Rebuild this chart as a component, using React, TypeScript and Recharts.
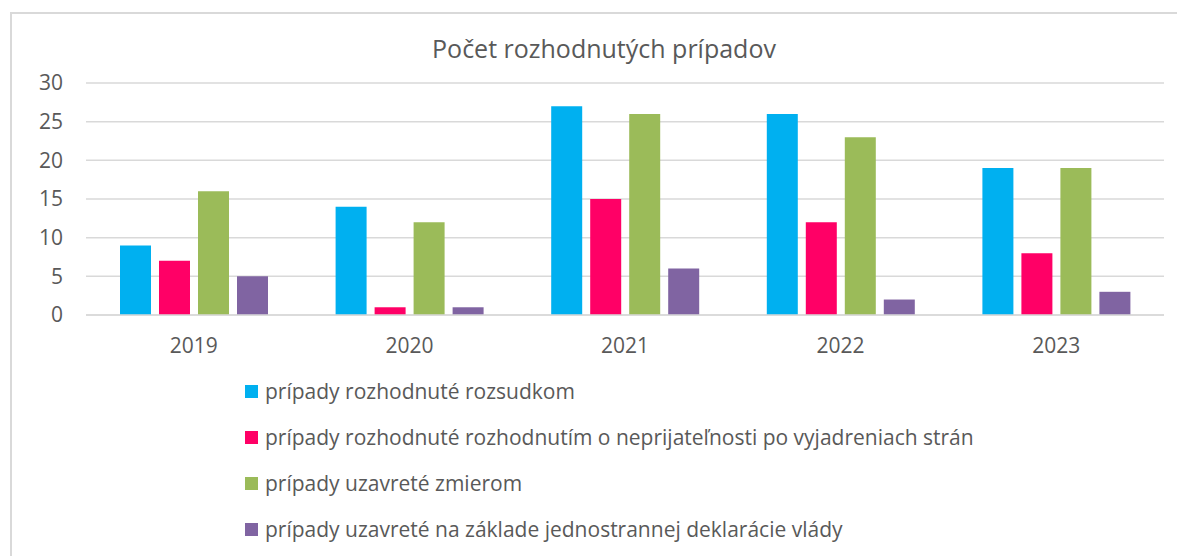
import React from 'react'
import { BarChart, Bar, XAxis, YAxis, CartesianGrid } from 'recharts'

const years = ['2019', '2020', '2021', '2022', '2023']
const rozsudkom = [9, 14, 27, 26, 19]
const neprijatelnost = [7, 1, 15, 12, 8]
const zmierom = [16, 12, 26, 23, 19]
const deklaracia = [5, 1, 6, 2, 3]
const yTicks = [0, 5, 10, 15, 20, 25, 30]

const series = [
  { key: 'rozsudkom', name: 'prípady rozhodnuté rozsudkom', color: '#00B0F0' },
  {
    key: 'neprijatelnost',
    name: 'prípady rozhodnuté rozhodnutím o neprijateľnosti po vyjadreniach strán',
    color: '#FF0066',
  },
  { key: 'zmierom', name: 'prípady uzavreté zmierom', color: '#9BBB59' },
  {
    key: 'deklaracia',
    name: 'prípady uzavreté na základe jednostrannej deklarácie vlády',
    color: '#8064A2',
  },
]

const data = years.map((year, i) => ({
  year,
  rozsudkom: rozsudkom[i],
  neprijatelnost: neprijatelnost[i],
  zmierom: zmierom[i],
  deklaracia: deklaracia[i],
}))

const font = '"Open Sans", sans-serif'
const textColor = '#595959'

function LegendList() {
  return (
    <div
      style={{
        position: 'absolute',
        left: 237,
        top: 360,
        fontFamily: font,
      }}
    >
      {series.map((s) => (
        <div
          key={s.key}
          style={{
            display: 'flex',
            alignItems: 'center',
            height: 46,
            fontSize: 21,
            color: textColor,
            whiteSpace: 'nowrap',
          }}
        >
          <span
            style={{
              width: 13,
              height: 13,
              background: s.color,
              marginRight: 7,
              display: 'inline-block',
            }}
          />
          {s.name}
        </div>
      ))}
    </div>
  )
}

export default function App() {
  return (
    <div style={{ position: 'relative', width: 1177, height: 548 }}>
      <div
        style={{
          position: 'absolute',
          left: 2,
          top: 4,
          width: 1175,
          height: 544,
          borderTop: '2px solid #d9d9d9',
          borderLeft: '2px solid #d9d9d9',
          boxSizing: 'border-box',
        }}
      />
      <div
        style={{
          position: 'absolute',
          left: 0,
          width: 1192,
          top: 23,
          textAlign: 'center',
          fontFamily: font,
          fontSize: 25,
          color: textColor,
        }}
      >
        Počet rozhodnutých prípadov
      </div>
      <BarChart
        width={1177}
        height={548}
        data={data}
        margin={{ top: 75, right: 21, left: 0, bottom: 211 }}
        barCategoryGap={34}
        barGap={8}
      >
        <CartesianGrid vertical={false} stroke="#d9d9d9" strokeWidth={1.5} />
        <XAxis
          dataKey="year"
          height={30}
          tickLine={false}
          tickSize={0}
          tickMargin={23}
          axisLine={{ stroke: '#d9d9d9', strokeWidth: 1.5 }}
          tick={{ fill: textColor, fontSize: 21, fontFamily: font }}
        />
        <YAxis
          width={78}
          domain={[0, 30]}
          ticks={yTicks}
          tickLine={false}
          axisLine={false}
          tickSize={0}
          tickMargin={23}
          tick={{ fill: textColor, fontSize: 21, fontFamily: font }}
        />
        {series.map((s) => (
          <Bar
            key={s.key}
            dataKey={s.key}
            name={s.name}
            fill={s.color}
            isAnimationActive={false}
          />
        ))}
      </BarChart>
      <LegendList />
    </div>
  )
}
